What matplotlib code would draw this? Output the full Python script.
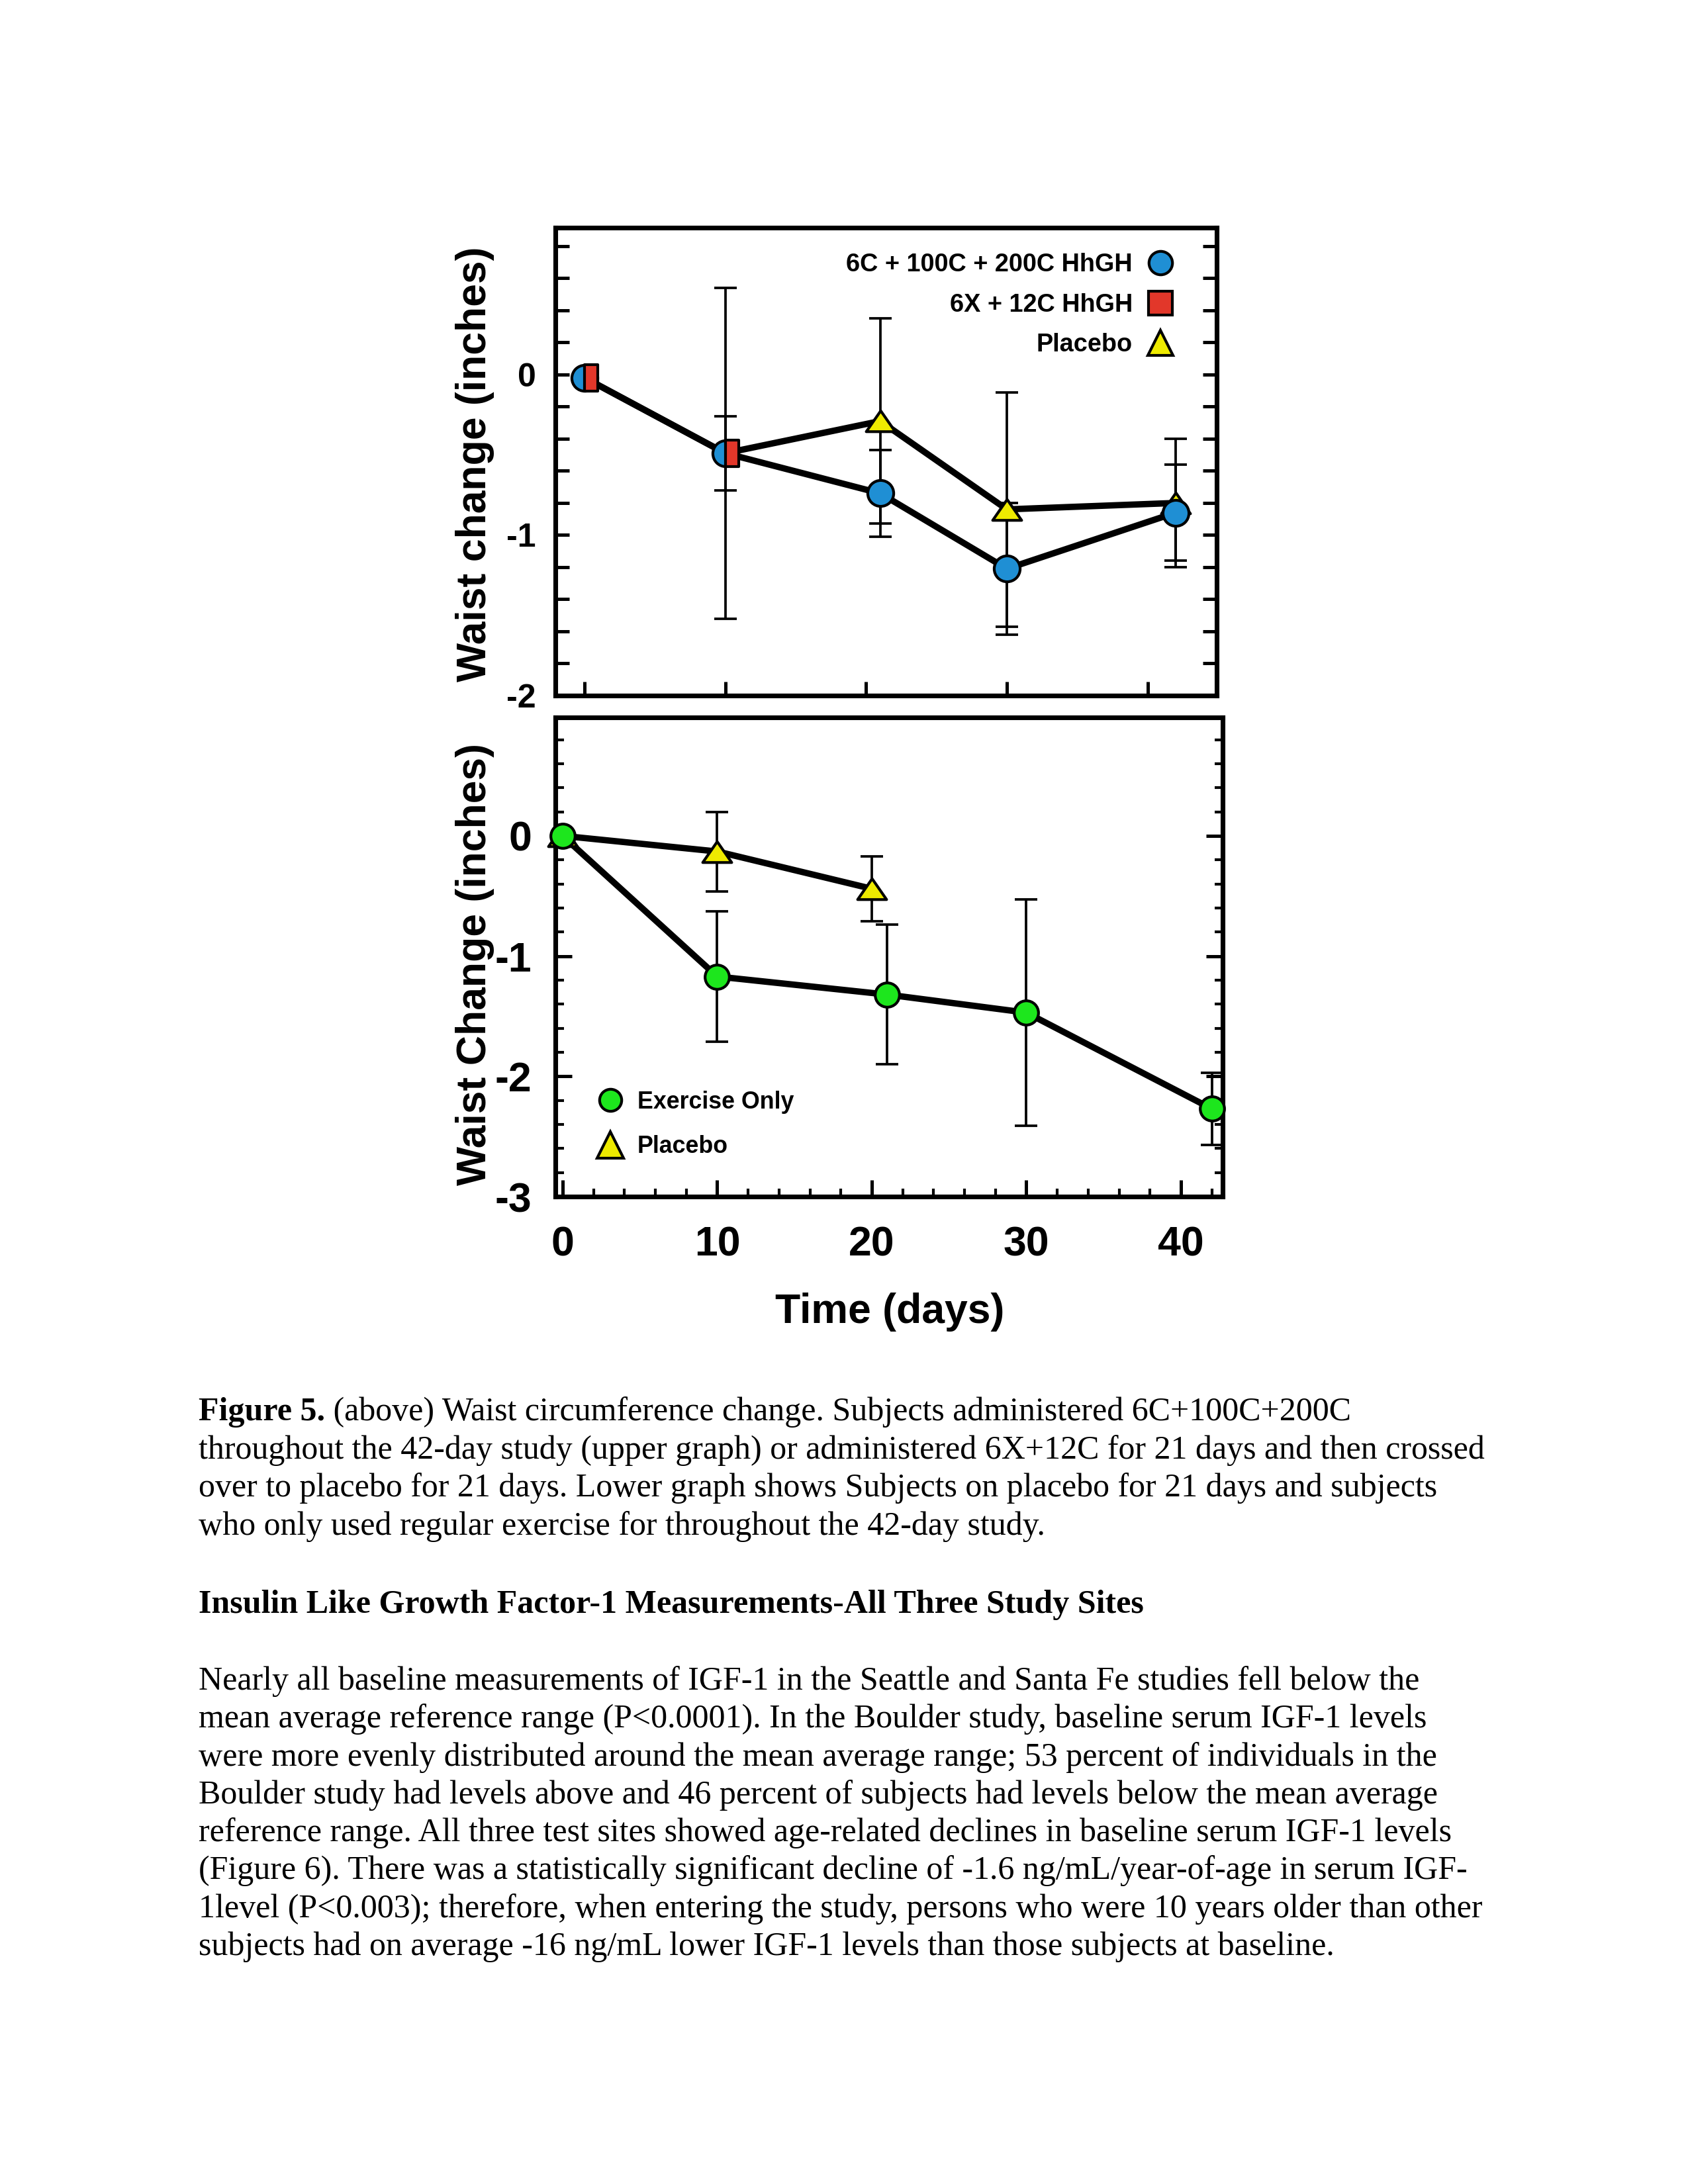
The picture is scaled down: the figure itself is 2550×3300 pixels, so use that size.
import matplotlib
matplotlib.use("Agg")
import matplotlib.pyplot as plt
from matplotlib.path import Path
from matplotlib.lines import Line2D
from matplotlib.ticker import MultipleLocator, FixedLocator, NullFormatter, FormatStrFormatter

# ---------------- data ----------------
# upper graph
top_days_hgh = [0, 10, 21, 30, 42]
top_waist_hgh = [-0.02, -0.49, -0.74, -1.21, -0.86]
top_err_hgh = [0.0, 0.23, 0.27, 0.41, 0.30]

top_days_6x = [0, 10]
top_waist_6x = [-0.02, -0.49]
top_err_6x = [0.0, 1.03]

top_days_plc = [21, 30, 42]
top_waist_plc = [-0.29, -0.84, -0.80]
top_err_plc = [0.64, 0.73, 0.40]

# lower graph
bot_days_ex = [0, 10, 21, 30, 42]
bot_waist_ex = [0.0, -1.17, -1.32, -1.47, -2.27]
bot_err_ex = [0.0, 0.54, 0.58, 0.94, 0.30]

bot_days_plc = [0, 10, 20]
bot_waist_plc = [0.0, -0.13, -0.44]
bot_err_plc = [0.0, 0.33, 0.27]

x_ticks = [0, 10, 20, 30, 40]
top_y_ticks = [-2, -1, 0]
bot_y_ticks = [-3, -2, -1, 0]

top_labels = ["6C + 100C + 200C HhGH", "6X + 12C HhGH", "Placebo"]
bot_labels = ["Exercise Only", "Placebo"]

caption_bold = "Figure 5."
caption_lines = [
    " (above) Waist circumference change. Subjects administered 6C+100C+200C",
    "throughout the 42-day study (upper graph) or administered 6X+12C for 21 days and then crossed",
    "over to placebo for 21 days. Lower graph shows Subjects on placebo for 21 days and subjects",
    "who only used regular exercise for throughout the 42-day study.",
]
heading = "Insulin Like Growth Factor-1 Measurements-All Three Study Sites"
paragraph = [
    "Nearly all baseline measurements of IGF-1 in the Seattle and Santa Fe studies fell below the",
    "mean average reference range (P<0.0001). In the Boulder study, baseline serum IGF-1 levels",
    "were more evenly distributed around the mean average range; 53 percent of individuals in the",
    "Boulder study had levels above and 46 percent of subjects had levels below the mean average",
    "reference range. All three test sites showed age-related declines in baseline serum IGF-1 levels",
    "(Figure 6). There was a statistically significant decline of -1.6 ng/mL/year-of-age in serum IGF-",
    "1level (P<0.003); therefore, when entering the study, persons who were 10 years older than other",
    "subjects had on average -16 ng/mL lower IGF-1 levels than those subjects at baseline.",
]

# ---------------- style ----------------
plt.rcParams["font.family"] = ["Liberation Sans", "DejaVu Sans"]
plt.rcParams["axes.unicode_minus"] = False

BLUE = "#1f8fd4"
RED = "#e2372a"
YELLOW = "#eeea00"
GREEN = "#1de61d"

W, H = 2550, 3300
fig = plt.figure(figsize=(8.5, 11), dpi=300)


def px_axes(l, t, r, b):
    return fig.add_axes([l / W, 1 - b / H, (r - l) / W, (b - t) / H])


# custom markers
half_square = Path([(0, -1), (1, -1), (1, 1), (0, 1), (0, -1)],
                   [Path.MOVETO, Path.LINETO, Path.LINETO, Path.LINETO, Path.CLOSEPOLY])
flat_tri = Path([(-1, -0.72), (1, -0.72), (0, 0.72), (-1, -0.72)],
                [Path.MOVETO, Path.LINETO, Path.LINETO, Path.CLOSEPOLY])

LW = 2.3
ELW = 0.9
CAP = 4

# ---------------- upper graph ----------------
ax1 = px_axes(839, 344, 1838, 1051)
ax1.set_xlim(-2.07, 44.9)
ax1.set_ylim(-2.0, 0.915)

# crossover series line (6X+12C then placebo)
cross_x = top_days_6x + top_days_plc
cross_y = top_waist_6x + top_waist_plc
ax1.plot(cross_x, cross_y, color="black", lw=LW, zorder=2, clip_on=False)
ax1.plot(top_days_hgh, top_waist_hgh, color="black", lw=LW, zorder=2, clip_on=False)

ax1.errorbar(top_days_6x, top_waist_6x, yerr=top_err_6x, fmt="none", ecolor="black",
             elinewidth=ELW, capsize=CAP, capthick=ELW, zorder=1)
ax1.errorbar(top_days_plc, top_waist_plc, yerr=top_err_plc, fmt="none", ecolor="black",
             elinewidth=ELW, capsize=CAP, capthick=ELW, zorder=1)
ax1.errorbar(top_days_hgh, top_waist_hgh, yerr=top_err_hgh, fmt="none", ecolor="black",
             elinewidth=ELW, capsize=CAP, capthick=ELW, zorder=1)

ax1.plot(top_days_plc, top_waist_plc, ls="none", marker=flat_tri, ms=10.5, mfc=YELLOW,
         mec="black", mew=1.0, zorder=3, clip_on=False)
ax1.plot(top_days_hgh, top_waist_hgh, ls="none", marker="o", ms=9.4, mfc=BLUE,
         mec="black", mew=1.0, zorder=4, clip_on=False)
ax1.plot(top_days_6x, top_waist_6x, ls="none", marker=half_square, ms=9.4, mfc=RED,
         mec="black", mew=1.0, zorder=5, clip_on=False)

ax1.xaxis.set_major_locator(FixedLocator(x_ticks))
ax1.xaxis.set_major_formatter(NullFormatter())
ax1.yaxis.set_major_locator(FixedLocator(top_y_ticks))
ax1.yaxis.set_major_formatter(FormatStrFormatter("%d"))
ax1.yaxis.set_minor_locator(MultipleLocator(0.2))
ax1.tick_params(axis="x", which="major", direction="in", length=5, width=1.2, bottom=True, top=False)
ax1.tick_params(axis="y", which="both", direction="in", length=5, width=1.2, left=True, right=True,
                labelsize=12, pad=7)
for lab in ax1.get_yticklabels():
    lab.set_fontweight("bold")
for s in ax1.spines.values():
    s.set_linewidth(1.7)

ax1.set_ylabel("Waist change (inches)", fontsize=15, fontweight="bold")
ax1.yaxis.set_label_coords(-0.092, 0.494)

h1 = [Line2D([], [], ls="none", marker="o", ms=8.5, mfc=BLUE, mec="black", mew=1.0),
      Line2D([], [], ls="none", marker="s", ms=8.5, mfc=RED, mec="black", mew=1.0),
      Line2D([], [], ls="none", marker="^", ms=9, mfc=YELLOW, mec="black", mew=1.0)]
leg1 = ax1.legend(h1, top_labels, loc="upper right", bbox_to_anchor=(0.943, 0.946),
                  frameon=False, markerfirst=False, handlelength=1.5,
                  handletextpad=0.35, labelspacing=0.65, borderpad=0, borderaxespad=0,
                  prop={"weight": "bold", "size": 9.1})

# ---------------- lower graph ----------------
ax2 = px_axes(839, 1084, 1847, 1808)
ax2.set_xlim(-0.47, 42.7)
ax2.set_ylim(-3.0, 0.985)

ax2.plot(bot_days_plc, bot_waist_plc, color="black", lw=LW, zorder=2, clip_on=False)
ax2.plot(bot_days_ex, bot_waist_ex, color="black", lw=LW, zorder=2, clip_on=False)
ax2.errorbar(bot_days_plc, bot_waist_plc, yerr=bot_err_plc, fmt="none", ecolor="black",
             elinewidth=ELW, capsize=CAP, capthick=ELW, zorder=1)
ax2.errorbar(bot_days_ex, bot_waist_ex, yerr=bot_err_ex, fmt="none", ecolor="black",
             elinewidth=ELW, capsize=CAP, capthick=ELW, zorder=1)
ax2.plot(bot_days_plc, bot_waist_plc, ls="none", marker=flat_tri, ms=10.5, mfc=YELLOW,
         mec="black", mew=1.0, zorder=3, clip_on=False)
ax2.plot(bot_days_ex, bot_waist_ex, ls="none", marker="o", ms=8.8, mfc=GREEN,
         mec="black", mew=1.0, zorder=4, clip_on=False)

ax2.xaxis.set_major_locator(FixedLocator(x_ticks))
ax2.xaxis.set_minor_locator(MultipleLocator(2))
ax2.yaxis.set_major_locator(FixedLocator(bot_y_ticks))
ax2.yaxis.set_major_formatter(FormatStrFormatter("%d"))
ax2.yaxis.set_minor_locator(MultipleLocator(0.2))
ax2.tick_params(axis="both", which="major", direction="in", length=6, width=1.2, labelsize=15)
ax2.tick_params(axis="both", which="minor", direction="in", length=3, width=1.0)
ax2.tick_params(axis="y", which="both", left=True, right=True)
ax2.tick_params(axis="x", which="both", bottom=True, top=False)
ax2.tick_params(axis="y", which="major", pad=8.5)
ax2.tick_params(axis="x", which="major", pad=10.5)
for lab in ax2.get_yticklabels() + ax2.get_xticklabels():
    lab.set_fontweight("bold")
for s in ax2.spines.values():
    s.set_linewidth(1.7)

ax2.set_ylabel("Waist Change (inches)", fontsize=15, fontweight="bold")
ax2.yaxis.set_label_coords(-0.091, 0.485)
ax2.set_xlabel("Time (days)", fontsize=15, fontweight="bold")
ax2.xaxis.set_label_coords(0.501, -0.200)

h2 = [Line2D([], [], ls="none", marker="o", ms=8, mfc=GREEN, mec="black", mew=1.0),
      Line2D([], [], ls="none", marker="^", ms=9.5, mfc=YELLOW, mec="black", mew=1.0)]
leg2 = ax2.legend(h2, bot_labels, loc="lower left", bbox_to_anchor=(0.0615, 0.08),
                  frameon=False, markerfirst=True, handlelength=1.2, handletextpad=0.52,
                  labelspacing=0.9, borderpad=0, borderaxespad=0,
                  prop={"weight": "bold", "size": 8.6})

# ---------------- caption / body text ----------------
SERIF = ["Liberation Serif", "DejaVu Serif"]
LEFT = 300
fs_txt = 12.0

renderer = fig.canvas.get_renderer()
t_bold = fig.text(LEFT / W, 1 - 2146 / H, caption_bold, family=SERIF, fontsize=fs_txt,
                  fontweight="bold", va="baseline", ha="left")
bb = t_bold.get_window_extent(renderer=renderer)
fig.text(bb.x1 / W, 1 - 2146 / H, caption_lines[0], family=SERIF, fontsize=fs_txt,
         va="baseline", ha="left")
for i, line in enumerate(caption_lines[1:], start=1):
    fig.text(LEFT / W, 1 - (2146 + 57.7 * i) / H, line, family=SERIF, fontsize=fs_txt,
             va="baseline", ha="left")

fig.text(LEFT / W, 1 - 2437 / H, heading, family=SERIF, fontsize=fs_txt, fontweight="bold",
         va="baseline", ha="left")

for i, line in enumerate(paragraph):
    fig.text(LEFT / W, 1 - (2553 + 57.3 * i) / H, line, family=SERIF, fontsize=fs_txt,
             va="baseline", ha="left")

fig.savefig("out.png", dpi=300, facecolor="white")
